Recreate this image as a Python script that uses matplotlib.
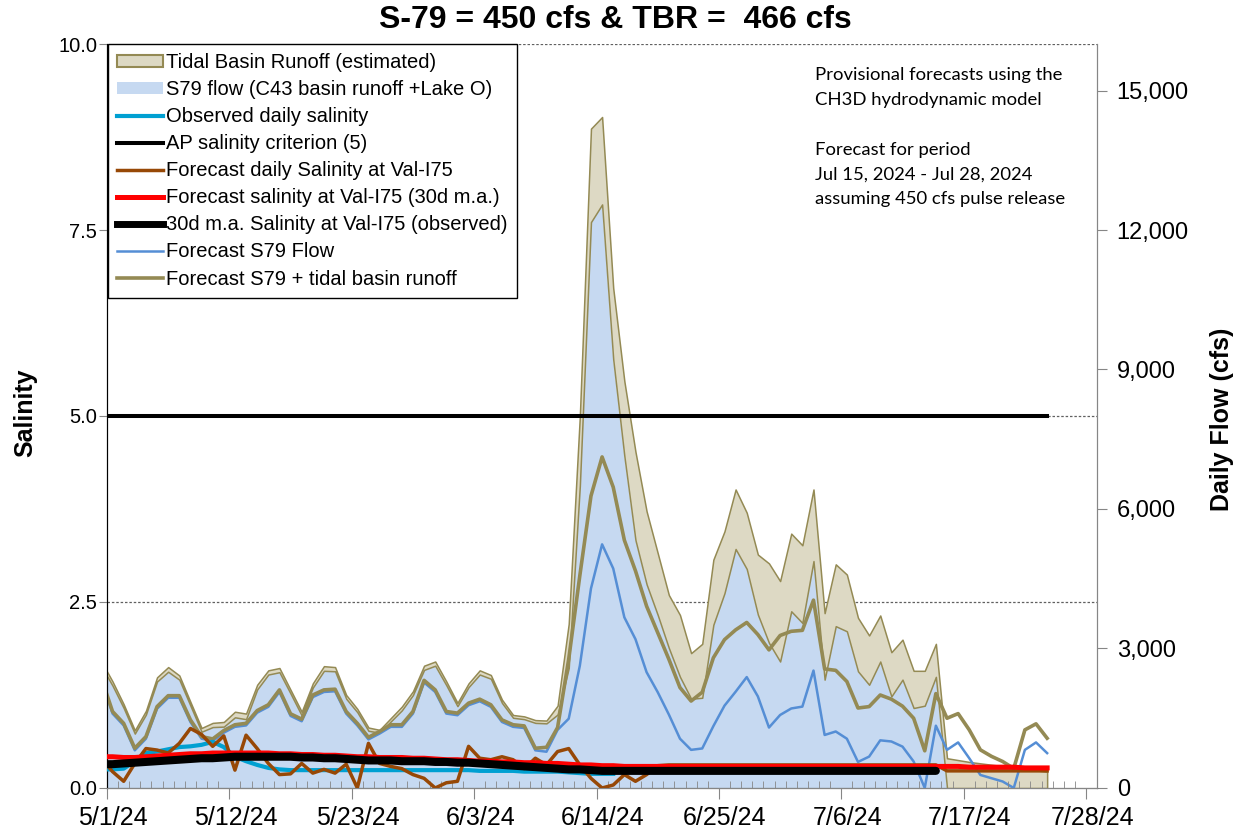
import numpy as np
import pandas as pd
import matplotlib
matplotlib.use("Agg")
import matplotlib.pyplot as plt
from matplotlib.patches import Patch
from matplotlib.lines import Line2D
from matplotlib.ticker import FuncFormatter, MultipleLocator
from matplotlib.transforms import ScaledTranslation
import matplotlib.dates as mdates

plt.rcParams['font.family'] = ['Liberation Sans', 'DejaVu Sans']

# daily values 4/30/24 .. 7/24/24
dates = pd.date_range('2024-04-30', '2024-07-24', freq='D')
nan = np.nan

# flows (cfs)
s79_obs = [2620, 2200, 1720, 1170, 1580, 2290, 2500, 2330, 1770, 1210,
           1310, 1320, 1520, 1480, 2120, 2440, 2490, 2030, 1560, 2160,
           2520, 2510, 1920, 1630, 1230, 1190, 1430, 1670, 2000, 2540,
           2630, 2210, 1760, 2170, 2440, 2350, 1830, 1510, 1480, 1400,
           1390, 1580, 2580, 6500, 12170, 12550, 9220, 7140, 5330, 4380,
           3720, 3010, 2390, 1920, 1940, 3510, 4190, 5140, 4710, 3730,
           3120, 2720, 3800, 3550, 4880, 2330, 3480, 3370, 2510, 2220,
           2720, 1970, 2330, 1720, 1770, 2390, 0, 0, 0, 0,
           0, 0, 0, 0, 0, 0]
tbr_obs = [100, 90, 80, 70, 80, 90, 100, 90, 80, 80,
           90, 100, 120, 120, 100, 90, 90, 80, 80, 90,
           100, 90, 80, 70, 70, 60, 70, 80, 80, 90,
           90, 80, 70, 80, 90, 80, 70, 60, 60, 60,
           60, 190, 950, 1500, 2010, 1880, 1530, 1610, 1900, 1570,
           1330, 1140, 1330, 980, 1160, 1400, 1330, 1280, 1210, 1290,
           1710, 1730, 1670, 1670, 1540, 1430, 1330, 1220, 1150, 1060,
           990, 950, 860, 800, 750, 710, 640, 600, 560, 530,
           500, 470, 440, 410, 380, 350]
fc_total = [2360, 1645, 1390, 855, 1105, 1750, 1985, 1985, 1465, 1105,
            1055, 1235, 1360, 1390, 1665, 1790, 2110, 1595, 1480, 2000,
            2110, 2125, 1645, 1390, 1090, 1215, 1360, 1360, 1645, 2315,
            2110, 1645, 1610, 1825, 1910, 1790, 1465, 1360, 1335, 855,
            875, 1300, 2770, 4570, 6280, 7120, 6470, 5330, 4670, 3910,
            3340, 2770, 2160, 1870, 2060, 2800, 3190, 3400, 3560, 3300,
            2970, 3280, 3370, 3390, 4040, 2560, 2530, 2290, 1720, 1750,
            2000, 1910, 1760, 1500, 800, 2030, 1500, 1600, 1250, 820,
            680, 570, 420, 1250, 1380, 1070]
fc_s79 = [2315, 1600, 1345, 810, 1060, 1705, 1940, 1940, 1420, 1060,
          1010, 1190, 1315, 1345, 1620, 1745, 2065, 1550, 1435, 1955,
          2065, 2080, 1600, 1345, 1045, 1170, 1315, 1315, 1600, 2270,
          2065, 1600, 1565, 1780, 1865, 1745, 1420, 1315, 1290, 810,
          780, 1250, 1490, 2630, 4290, 5240, 4720, 3670, 3200, 2490,
          2060, 1580, 1060, 820, 850, 1330, 1770, 2070, 2385, 1970,
          1300, 1570, 1710, 1750, 2525, 1140, 1215, 1060, 560, 675,
          1025, 1000, 890, 570, 0, 1340, 820, 980, 640, 280,
          210, 140, 0, 820, 980, 750]

# salinity
sal_obs = [0.25, 0.25, 0.26, 0.36, 0.47, 0.49, 0.52, 0.55, 0.56, 0.58,
           0.62, 0.55, 0.42, 0.36, 0.31, 0.27, 0.25, 0.24, 0.24, 0.24,
           0.24, 0.24, 0.24, 0.24, 0.24, 0.24, 0.24, 0.24, 0.24, 0.24,
           0.24, 0.24, 0.24, 0.24, 0.23, 0.23, 0.23, 0.23, 0.22, 0.22,
           0.22, 0.22, 0.21, 0.20, 0.19, 0.19, 0.19] + [nan] * 39
sal_fc_daily = [0.40, 0.22, 0.09, 0.33, 0.53, 0.51, 0.47, 0.60, 0.80, 0.72,
                0.56, 0.70, 0.24, 0.71, 0.53, 0.33, 0.18, 0.19, 0.33, 0.20,
                0.25, 0.20, 0.32, 0.00, 0.60, 0.33, 0.29, 0.26, 0.18, 0.13,
                0.00, 0.07, 0.09, 0.56, 0.40, 0.38, 0.42, 0.38, 0.26, 0.40,
                0.31, 0.49, 0.53, 0.31, 0.13, 0.00, 0.04, 0.18, 0.09, 0.18,
                0.30] + [0.31] * 25 + [0.23] * 10
sal_fc_30d = [0.42, 0.42, 0.41, 0.41, 0.42, 0.43, 0.44, 0.45, 0.46, 0.46,
              0.47, 0.47, 0.47, 0.47, 0.47, 0.47, 0.46, 0.46, 0.45, 0.45,
              0.44, 0.44, 0.43, 0.42, 0.42, 0.41, 0.41, 0.41, 0.40, 0.40,
              0.39, 0.38, 0.38, 0.37, 0.36, 0.36, 0.35, 0.35, 0.34, 0.34,
              0.33, 0.33, 0.32, 0.31, 0.31, 0.30, 0.30, 0.29, 0.29, 0.29,
              0.29, 0.29, 0.29, 0.29, 0.29, 0.29, 0.29, 0.29, 0.29, 0.29,
              0.29, 0.29, 0.29, 0.29, 0.29, 0.29, 0.29, 0.29, 0.29, 0.29,
              0.29, 0.29, 0.29, 0.29, 0.29, 0.29, 0.29, 0.29, 0.28, 0.28,
              0.28, 0.28, 0.28, 0.27, 0.27, 0.27]
sal_obs_30d = [0.32, 0.32, 0.33, 0.34, 0.35, 0.36, 0.37, 0.38, 0.39, 0.40,
               0.40, 0.41, 0.42, 0.42, 0.42, 0.42, 0.42, 0.42, 0.41, 0.41,
               0.40, 0.40, 0.39, 0.38, 0.37, 0.37, 0.37, 0.36, 0.36, 0.36,
               0.35, 0.35, 0.34, 0.34, 0.33, 0.32, 0.31, 0.30, 0.29, 0.28,
               0.27, 0.26, 0.25, 0.25, 0.24] + [0.23] * 31 + [nan] * 10
criterion = 5.0

major_dates = pd.date_range('2024-05-01', periods=9, freq='11D')

# Excel puts each day's point in the middle of the day slot
x = dates + pd.Timedelta(hours=12)
s79 = np.array(s79_obs)
tbr = np.array(tbr_obs)

fig = plt.figure(figsize=(12.44, 8.35), dpi=100)
ax = fig.add_axes([0.086, 0.0563, 0.796, 0.891])
ax2 = ax.twinx()
ax.set_zorder(ax2.get_zorder() + 1)
ax.patch.set_visible(False)
ax2.patch.set_facecolor('#F2F2F2')

# flows on the right axis
ax2.fill_between(x, 0, s79, facecolor='#C6D9F1', edgecolor='none', lw=0, zorder=2)
ax2.fill_between(x, s79, s79 + tbr, facecolor='#DDD9C4', edgecolor='#948A54', lw=1.1, zorder=3)
ax2.plot(x, fc_s79, color='#558ED5', lw=1.8, zorder=4)
ax2.plot(x, fc_total, color='#948A54', lw=2.6, zorder=5)

# salinity on the left axis
ax.plot(x, sal_obs, color='#00A0D2', lw=3.0, zorder=3)
ax.plot(x, [criterion] * len(x), color='black', lw=2.9, zorder=4)
ax.plot(x, sal_fc_daily, color='#974806', lw=2.5, zorder=5)
ax.plot(x, sal_fc_30d, color='#FF0000', lw=3.6, zorder=6)
ax.plot(x, sal_obs_30d, color='black', lw=5.8, solid_capstyle='round', zorder=7)

ax.set_xlim(pd.Timestamp('2024-05-01'), pd.Timestamp('2024-07-29'))
ax.set_ylim(0, 10)
ax2.set_ylim(0, 16000)

ax.set_xticks(major_dates)
ax.xaxis.set_major_formatter(FuncFormatter(
    lambda v, p: '{d.month}/{d.day}/{d:%y}'.format(d=mdates.num2date(v))))
ax.xaxis.set_minor_locator(mdates.DayLocator())
ax.yaxis.set_major_locator(MultipleLocator(2.5))
ax.yaxis.set_major_formatter(FuncFormatter(lambda v, p: f'{v:.1f}'))
ax2.yaxis.set_major_locator(MultipleLocator(3000))
ax2.yaxis.set_major_formatter(FuncFormatter(lambda v, p: f'{v:,.0f}'))

# grid behind the areas, on the flow axis
ax2.set_axisbelow(True)
ax2.yaxis.set_minor_locator(MultipleLocator(4000))
ax2.grid(axis='y', which='minor', color='#606060', lw=0.9, linestyle=(0, (2, 1.5)))
ax2.grid(axis='x', which='major', color='#8C8C8C', lw=1.0, linestyle=(0, (4, 3)))
ax2.tick_params(axis='y', which='minor', length=0)

ax.tick_params(axis='x', which='major', direction='out', length=8, color='#868686', labelsize=18, pad=5)
ax.tick_params(axis='x', which='minor', direction='in', length=5, color='#868686')
ax.tick_params(axis='y', which='major', direction='out', length=6, color='#868686', labelsize=14.5, pad=1)
ax2.tick_params(axis='y', which='major', direction='out', length=7, color='#868686', labelsize=17, pad=7)

# Excel draws the date labels a little right of their ticks
for lab in ax.get_xticklabels():
    lab.set_transform(lab.get_transform() + ScaledTranslation(6 / 100, 0, fig.dpi_scale_trans))

for a in (ax, ax2):
    a.spines['top'].set_visible(False)
ax.spines['left'].set_color('black')
ax.spines['bottom'].set_color('#868686')
ax.spines['right'].set_color('#868686')
ax2.spines['right'].set_color('#868686')

ax.set_ylabel('Salinity', fontsize=18, fontweight='bold')
ax.yaxis.set_label_coords(-0.0707, 0.505)
ax2.set_ylabel('Daily Flow (cfs)', fontsize=18, fontweight='bold')
ax2.yaxis.set_label_coords(1.114, 0.495)

fig.text(0.495, 0.976, 'S-79 = 450 cfs & TBR =  466 cfs', ha='center', va='center',
         fontsize=23, fontweight='bold')

fig.text(815 / 1244, 1 - 67 / 835,
         'Provisional forecasts using the\nCH3D hydrodynamic model\n\n'
         'Forecast for period\nJul 15, 2024 - Jul 28, 2024\nassuming 450 cfs pulse release',
         ha='left', va='top', fontsize=13.3, family='Lato', linespacing=1.68)

handles = [
    Patch(facecolor='#DDD9C4', edgecolor='#948A54', lw=1.5),
    Patch(facecolor='#C6D9F1', edgecolor='none'),
    Line2D([], [], color='#00A0D2', lw=3.0),
    Line2D([], [], color='black', lw=2.9),
    Line2D([], [], color='#974806', lw=2.5),
    Line2D([], [], color='#FF0000', lw=3.6),
    Line2D([], [], color='black', lw=5.0),
    Line2D([], [], color='#558ED5', lw=1.8),
    Line2D([], [], color='#948A54', lw=2.6),
]
labels = [
    'Tidal Basin Runoff (estimated)',
    'S79 flow (C43 basin runoff +Lake O)',
    'Observed daily salinity',
    'AP salinity criterion (5)',
    'Forecast daily Salinity at Val-I75',
    'Forecast salinity at Val-I75 (30d m.a.)',
    '30d m.a. Salinity at Val-I75 (observed)',
    'Forecast S79 Flow',
    'Forecast S79 + tidal basin runoff',
]
leg = ax.legend(handles, labels, loc='upper left', bbox_to_anchor=(0.001, 1.0), borderaxespad=0,
                fontsize=14.5, frameon=True, fancybox=False, framealpha=1, facecolor='white',
                edgecolor='black', labelspacing=0.4, handlelength=2.3, handleheight=0.5,
                handletextpad=0.15, borderpad=0.45)
leg.get_frame().set_linewidth(1.0)

fig.savefig('out.png', dpi=100)
